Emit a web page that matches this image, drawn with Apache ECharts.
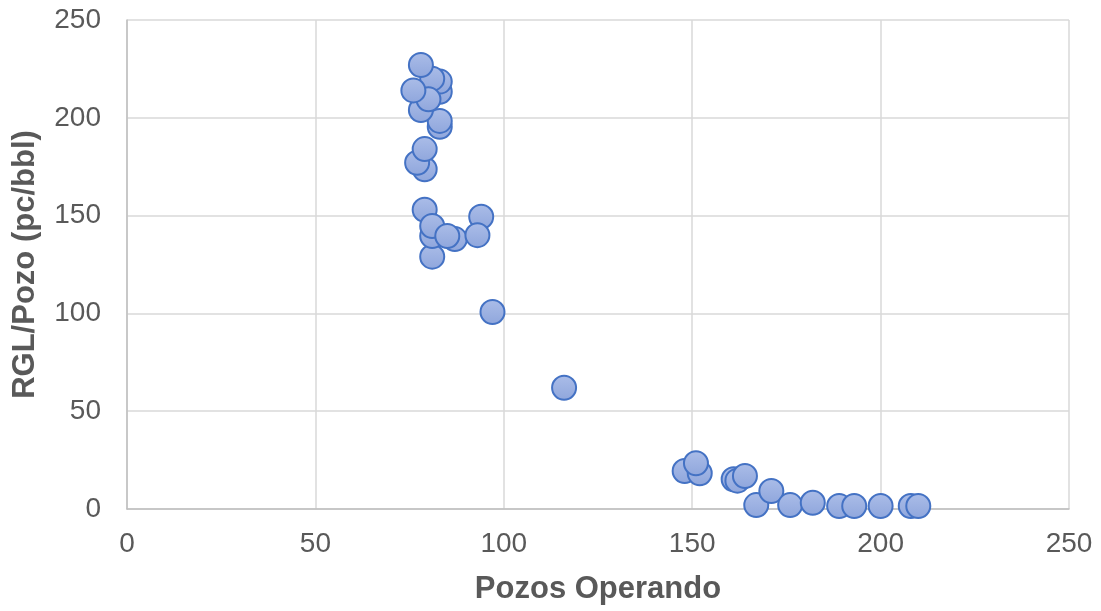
<!DOCTYPE html>
<html>
<head>
<meta charset="utf-8">
<script src="https://cdn.jsdelivr.net/npm/echarts@6/dist/echarts.min.js"></script>
<style>
  html, body { margin: 0; padding: 0; background: #fff; }
  #chart { width: 1101px; height: 611px; }
</style>
</head>
<body>
<div id="chart"></div>
<script>
// pozos operando (x) y RGL/Pozo (y), en orden de dibujo
var pozos = [83, 83, 83, 83, 81, 78, 80, 76, 78,
    79, 77, 79,
    79, 81, 87, 81, 81, 85, 94, 93,
    97, 116,
    148, 152, 151, 161, 162, 164,
    167, 171, 176, 182, 189, 193, 200, 208, 210];
var rglPozo = [195.4, 198.4, 213.3, 218.5, 220, 204, 209.5, 214, 227,
    173.7, 177, 184,
    153, 129, 138, 139.6, 144.7, 139.6, 149.4, 140,
    100.7, 62,
    19.4, 18.3, 23.4, 15.2, 14.5, 16.9,
    2, 9.2, 2, 3.2, 1.5, 1.5, 1.5, 1.5, 1.5];
var ejeX = [0, 250, 50];
var ejeY = [0, 250, 50];

var puntos = pozos.map(function (p, i) {
    return [p, rglPozo[i]];
});

var chart = echarts.init(document.getElementById('chart'));
chart.setOption({
    animation: false,
    textStyle: {fontFamily: 'Liberation Sans, Arial, sans-serif'},
    grid: {
        left: 127,
        right: 32,
        top: 20,
        bottom: 102
    },
    xAxis: {
        type: 'value',
        min: ejeX[0],
        max: ejeX[1],
        interval: ejeX[2],
        name: 'Pozos Operando',
        nameLocation: 'middle',
        nameGap: 65,
        nameTextStyle: {fontSize: 31, fontWeight: 'bold', color: '#595959'},
        axisLine: {show: true, lineStyle: {color: '#bfbfbf', width: 1.5}},
        axisTick: {show: false},
        axisLabel: {fontSize: 28, color: '#595959', margin: 21},
        splitLine: {show: true, lineStyle: {color: '#d9d9d9', width: 1.5}}
    },
    yAxis: {
        type: 'value',
        min: ejeY[0],
        max: ejeY[1],
        interval: ejeY[2],
        name: 'RGL/Pozo (pc/bbl)',
        nameLocation: 'middle',
        nameGap: 86,
        nameTextStyle: {fontSize: 31, fontWeight: 'bold', color: '#595959'},
        axisLine: {show: true, lineStyle: {color: '#bfbfbf', width: 1.5}},
        axisTick: {show: false},
        axisLabel: {fontSize: 28, color: '#595959', margin: 26},
        splitLine: {show: true, lineStyle: {color: '#d9d9d9', width: 1.5}}
    },
    series: [{
        type: 'scatter',
        data: puntos,
        symbolSize: 24,
        itemStyle: {
            color: new echarts.graphic.LinearGradient(0, 0, 0, 1, [
                {offset: 0, color: '#abbde8'},
                {offset: 1, color: '#8fa6dc'}
            ]),
            borderColor: '#4472c4',
            borderWidth: 2,
            opacity: 1
        }
    }]
});
</script>
</body>
</html>
